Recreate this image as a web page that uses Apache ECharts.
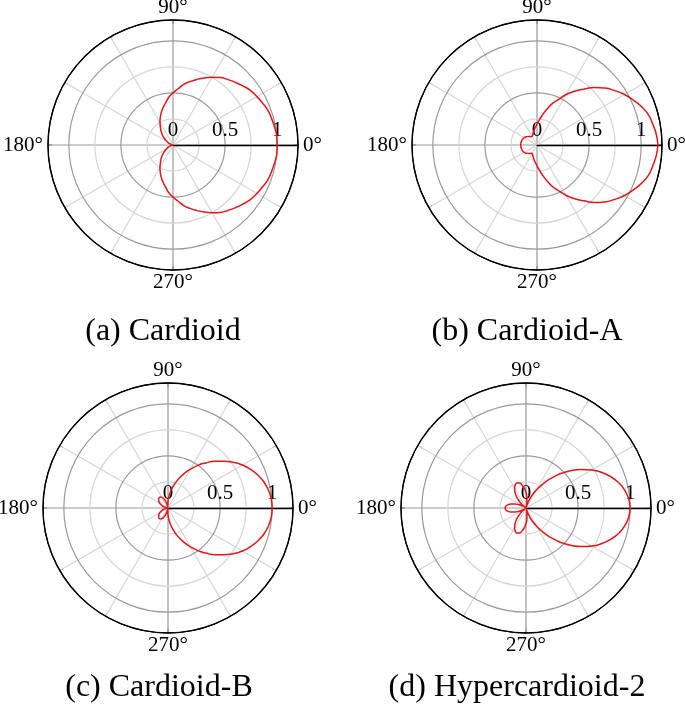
<!DOCTYPE html>
<html>
<head>
<meta charset="UTF-8">
<title>polar patterns</title>
<script src="https://cdn.jsdelivr.net/npm/echarts@6/dist/echarts.min.js"></script>
<style>
  html, body { margin: 0; padding: 0; background: #fff; }
  #main { width: 685px; height: 712px; }
</style>
</head>
<body>
<div id="main"></div>
<script>
// sample angles (degrees)
var angles = [0,5,10,15,20,25,30,35,40,45,50,55,60,65,70,75,80,85,90,95,100,105,110,115,120,125,130,135,140,145,150,155,160,165,170,175,
  180,185,190,195,200,205,210,215,220,225,230,235,240,245,250,255,260,265,270,275,280,285,290,295,300,305,310,315,320,325,330,335,340,345,350,355,360];

// (a) Cardioid
var cardioid = [1.00,1.00,.99,.98,.97,.95,.93,.91,.88,.85,.82,.79,.75,.71,.67,.63,.59,.54,.50,.46,.41,.37,.33,.29,.25,.21,.18,.15,.12,.09,.07,.05,.03,.017,.008,.002,
  0,.002,.008,.017,.03,.05,.07,.09,.12,.15,.18,.21,.25,.29,.33,.37,.41,.46,.50,.54,.59,.63,.67,.71,.75,.79,.82,.85,.88,.91,.93,.95,.97,.98,.99,1.00,1.00];

// (b) Cardioid-A
var cardioidA = [1.16,1.15,1.13,1.11,1.07,1.02,.97,.91,.85,.78,.70,.63,.56,.48,.42,.35,.29,.24,.20,.17,.15,.13,.115,.10,.095,.097,.105,.115,.125,.135,.142,.147,.151,.153,.155,.156,
  .156,.156,.155,.153,.151,.147,.142,.135,.125,.115,.105,.097,.095,.10,.115,.13,.15,.17,.20,.24,.29,.35,.42,.48,.56,.63,.70,.78,.85,.91,.97,1.02,1.07,1.11,1.13,1.15,1.16];

// (c) Cardioid-B
var cardioidB = [1.00,.995,.98,.955,.92,.875,.825,.765,.70,.635,.565,.50,.43,.365,.30,.235,.175,.115,.065,.025,0,.04,.075,.10,.118,.128,.13,.127,.118,.105,.09,.072,.055,.037,.02,.007,
  0,.007,.02,.037,.055,.072,.09,.105,.118,.127,.13,.128,.118,.10,.075,.04,0,.025,.065,.115,.175,.235,.30,.365,.43,.50,.565,.635,.70,.765,.825,.875,.92,.955,.98,.995,1.00];

// (d) Hypercardioid-2
var hyper2 = [1.00,.99,.965,.925,.87,.805,.73,.645,.555,.465,.37,.28,.20,.13,.06,0,.05,.10,.15,.19,.225,.248,.255,.245,.22,.185,.14,.09,.045,0,.035,.075,.115,.15,.178,.195,
  .20,.195,.178,.15,.115,.075,.035,0,.045,.09,.14,.185,.22,.245,.255,.248,.225,.19,.15,.10,.05,0,.06,.13,.20,.28,.37,.465,.555,.645,.73,.805,.87,.925,.965,.99,1.00];

var captions = ['(a) Cardioid', '(b) Cardioid-A', '(c) Cardioid-B', '(d) Hypercardioid-2'];
var patterns = [cardioid, cardioidA, cardioidB, hyper2];

var centers = [[173, 145], [537, 145], [168, 508], [526, 508]];
var captionPos = [[163, 316], [527, 316], [159, 672], [517, 672]];

var serif = 'Liberation Serif';
var darkGrey = '#9a9a9a', lightGrey = '#d6d6d6';

var polar = [], angleAxis = [], radiusAxis = [], series = [], title = [];

for (var i = 0; i < 4; i++) {
  polar.push({ center: centers[i], radius: 125 });

  angleAxis.push({
    polarIndex: i,
    type: 'value',
    min: 0, max: 360, interval: 30,
    startAngle: 0,
    clockwise: false,
    z: 1,
    axisLine: { lineStyle: { color: '#000', width: 1.3 } },
    axisTick: { show: true, inside: true, length: 4, lineStyle: { color: '#555' } },
    axisLabel: {
      margin: 2,
      padding: [0, 3, 0, 3],
      color: '#000',
      fontFamily: serif,
      fontSize: 21,
      formatter: function (v) { return (v % 90 === 0 && v < 360) ? v + '°' : ''; }
    },
    splitLine: { show: true, lineStyle: { color: [darkGrey, lightGrey, lightGrey], width: 1.2 } }
  });

  radiusAxis.push({
    polarIndex: i,
    type: 'value',
    min: 0, max: 1.2, interval: 0.25,
    z: 2,
    axisLine: { lineStyle: { color: '#000', width: 1.3 } },
    axisTick: { show: false },
    axisLabel: {
      margin: 4,
      color: '#000',
      fontFamily: serif,
      fontSize: 21,
      formatter: function (v) {
        if (v === 0) return '0';
        if (Math.abs(v - 0.5) < 1e-6) return '0.5';
        if (Math.abs(v - 1) < 1e-6) return '1';
        return '';
      }
    },
    splitLine: { show: true, lineStyle: { color: [darkGrey, lightGrey, darkGrey, lightGrey, darkGrey, '#000'], width: 1.2 } }
  });

  series.push({
    type: 'line',
    coordinateSystem: 'polar',
    polarIndex: i,
    showSymbol: false,
    smooth: 0.5,
    z: 5,
    lineStyle: { color: '#e3161b', width: 1.5 },
    data: angles.map(function (a, k) { return [patterns[i][k], a]; })
  });

  title.push({
    text: captions[i],
    left: captionPos[i][0],
    top: captionPos[i][1],
    textAlign: 'center',
    padding: 0,
    textStyle: { fontFamily: serif, fontSize: 32, fontWeight: 'normal', color: '#000' }
  });
}

var chart = echarts.init(document.getElementById('main'));
chart.setOption({
  backgroundColor: '#fff',
  animation: false,
  title: title,
  polar: polar,
  angleAxis: angleAxis,
  radiusAxis: radiusAxis,
  series: series
});
</script>
</body>
</html>
